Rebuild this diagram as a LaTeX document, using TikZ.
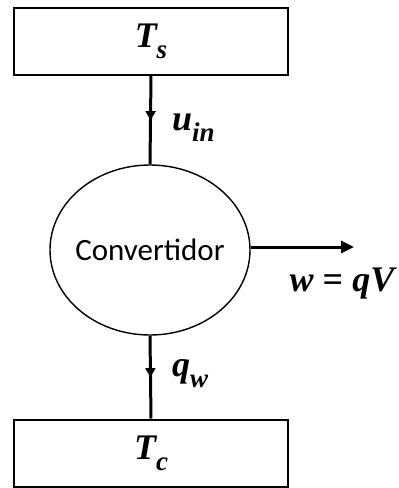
\documentclass[tikz,border=0pt]{standalone}
\usepackage{fontspec}
\usetikzlibrary{shapes.geometric,arrows.meta,decorations.markings}
\newfontfamily\tnrfont{Liberation Serif}
\newfontfamily\carlitofont{Carlito}
\newcommand{\bigfont}{\fontsize{36}{40}\selectfont}
\newcommand{\subfont}{\fontsize{27}{30}\selectfont}
\begin{document}
\begin{tikzpicture}[x=1pt,y=-1pt,
  tempbox/.style={draw, line width=2pt, minimum width=274pt, minimum height=67pt, inner sep=0pt,
    font=\tnrfont\bfseries\itshape\bigfont},
  conv/.style={draw, ellipse, line width=1.4pt, minimum width=200pt, minimum height=170pt, inner sep=-10pt,
    font=\carlitofont\fontsize{31}{33}\selectfont},
  flowline/.style={line width=3pt, decoration={markings, mark=at position 0.5 with {\arrow{Triangle[length=9pt,width=10pt]}}}, postaction={decorate}},
  outarrow/.style={line width=3pt, -{Triangle[length=13pt,width=12pt]}},
  lab/.style={font=\tnrfont\bfseries\itshape\bigfont, inner sep=0pt}
]
\useasboundingbox (0,0) rectangle (399,488);
\node[tempbox] (Ts) at (151,41.5) {T\raisebox{-0.3em}{\subfont s}};
\node[conv] (C) at (150,250) {Convertidor};
\node[tempbox] (Tc) at (151,453) {T\raisebox{-0.3em}{\subfont c}};
\coordinate (out) at (354,247);
\draw[flowline] (Ts.south) -- (C.north);
\draw[flowline] (C.south) -- (Tc.north);
\draw[outarrow] (C.east |- out) -- (out);
\node[lab, anchor=west] (uin) at (172,128) {u\raisebox{-0.3em}{\subfont in}};
\node[lab, anchor=west] (qw) at (172,374) {q\raisebox{-0.3em}{\subfont w}};
\node[lab] (wq) at (342,284) {w {\upshape=} qV};
\end{tikzpicture}
\end{document}
